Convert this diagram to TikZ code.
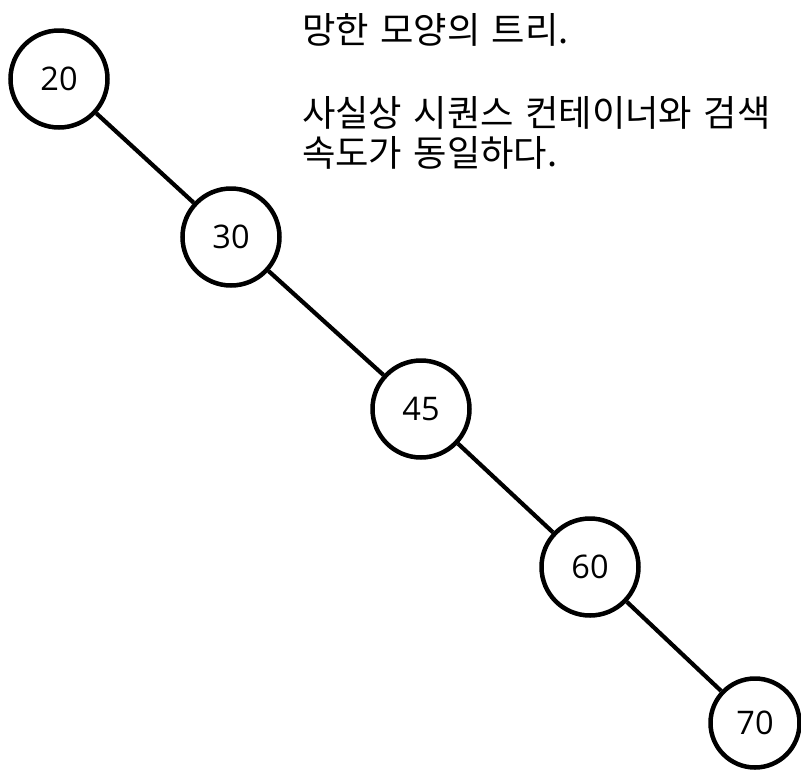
\documentclass[tikz,border=0pt]{standalone}
\usepackage{fontspec}
\newfontfamily\krfont[WordSpace=1.4]{Noto Sans CJK KR}
\newfontfamily\numfont{Open Sans}
\begin{document}
\begin{tikzpicture}[x=1pt,y=-1pt,
  tnode/.style={circle,draw=black,line width=4.5pt,fill=white,inner sep=0pt,
    minimum size=97pt,font=\numfont\fontsize{32.5}{36}\selectfont},
  edge/.style={line width=4.2pt,black},
  note/.style={anchor=base west,inner sep=0pt,font=\krfont\fontsize{36.3}{41.5}\selectfont}]
\useasboundingbox (0,0) rectangle (801,772);
\fill[white] (0,0) rectangle (801,772);
\node[tnode] (n20) at (59,79) {20};
\node[tnode] (n30) at (231,237) {30};
\node[tnode] (n45) at (421,409) {45};
\node[tnode] (n60) at (590,567) {60};
\node[tnode,minimum size=89pt] (n70) at (755,723) {70};
\draw[edge] (n20) -- (n30);
\draw[edge] (n30) -- (n45);
\draw[edge] (n45) -- (n60);
\draw[edge] (n60) -- (n70);
\node[note] (t1) at (302,43) {망한 모양의 트리.};
\node[note] (t2) at (302,126) {사실상 시퀀스 컨테이너와 검색};
\node[note] (t3) at (302,166) {속도가 동일하다.};
\end{tikzpicture}
\end{document}
